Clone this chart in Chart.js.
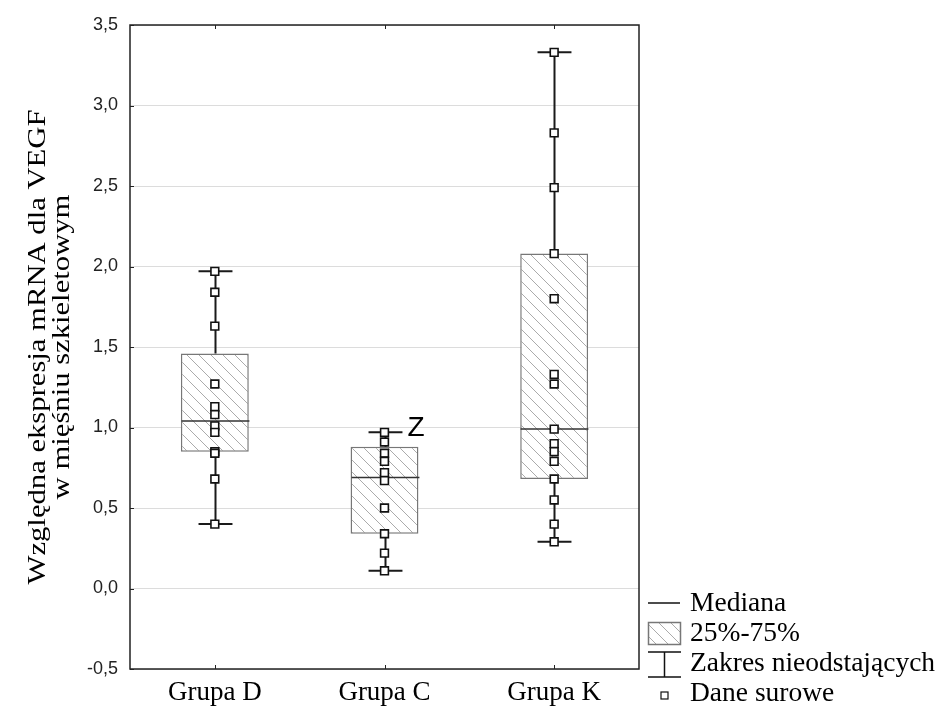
<!DOCTYPE html>
<html>
<head>
<meta charset="utf-8">
<script src="https://cdn.jsdelivr.net/npm/chart.js@4.4.1/dist/chart.umd.min.js"></script>
<style>
  html, body { margin: 0; padding: 0; background: #fff; }
  #wrap { width: 941px; height: 708px; }
</style>
</head>
<body>
<div id="wrap"><canvas id="boxChart" width="941" height="708"></canvas></div>
<script>
// dane
const categories = ["Grupa D", "Grupa C", "Grupa K"];
const rawD = [1.97, 1.84, 1.63, 1.27, 1.13, 1.08, 1.01, 0.97, 0.85, 0.84, 0.68, 0.40];
const rawC = [0.97, 0.91, 0.84, 0.79, 0.72, 0.67, 0.50, 0.34, 0.22, 0.11];
const rawK = [3.33, 2.83, 2.49, 2.08, 1.80, 1.33, 1.27, 0.99, 0.90, 0.85, 0.79, 0.68, 0.55, 0.40, 0.29];
const q1 = [0.85, 0.34, 0.68];
const q3 = [1.46, 0.88, 2.08];
const medians = [1.04, 0.69, 0.99];
const whiskerLow = [0.40, 0.11, 0.29];
const whiskerHigh = [1.97, 0.97, 3.33];
const yTicks = [-0.5, 0, 0.5, 1, 1.5, 2, 2.5, 3, 3.5];
const yTitle = ["Względna ekspresja mRNA dla VEGF", "w mięśniu szkieletowym"];

const serif = "'Liberation Serif', 'Times New Roman', serif";
const sans = "'Liberation Sans', Arial, sans-serif";

const makeHatch = () => {
    const c = document.createElement("canvas");
    c.width = 12; c.height = 12;
    const g = c.getContext("2d");
    g.fillStyle = "#fff";
    g.fillRect(0, 0, 12, 12);
    g.strokeStyle = "#ababab";
    g.lineWidth = 1;
    g.beginPath();
    g.moveTo(-2, -2); g.lineTo(14, 14);
    g.moveTo(-2, 10); g.lineTo(2, 14);
    g.moveTo(10, -2); g.lineTo(14, 2);
    g.stroke();
    return g.createPattern(c, "repeat");
};
const hatch = makeHatch();

const rawPoints = [rawD, rawC, rawK].flatMap((vals, i) => vals.map((v) => ({ x: categories[i], y: v })));

const whiskerPlugin = {
    id: "whiskers",
    afterDatasetDraw(chart, args) {
        if (args.index !== 1) return;
        const { ctx, scales: { x, y } } = chart;
        const step = x.getPixelForValue(1) - x.getPixelForValue(0);
        ctx.save();
        categories.forEach((cat, i) => {
            const cx = Math.round(x.getPixelForValue(i)) + 0.5;
            const cap = step * 0.1;
            ctx.strokeStyle = "#1a1a1a";
            ctx.lineWidth = 2;
            ctx.beginPath();
            ctx.moveTo(cx, y.getPixelForValue(whiskerHigh[i]));
            ctx.lineTo(cx, y.getPixelForValue(q3[i]));
            ctx.moveTo(cx, y.getPixelForValue(q1[i]));
            ctx.lineTo(cx, y.getPixelForValue(whiskerLow[i]));
            ctx.moveTo(cx - cap, y.getPixelForValue(whiskerHigh[i]));
            ctx.lineTo(cx + cap, y.getPixelForValue(whiskerHigh[i]));
            ctx.moveTo(cx - cap, y.getPixelForValue(whiskerLow[i]));
            ctx.lineTo(cx + cap, y.getPixelForValue(whiskerLow[i]));
            ctx.stroke();
            const half = step * 0.2;
            ctx.lineWidth = 1.5;
            ctx.strokeStyle = "#333";
            ctx.beginPath();
            ctx.moveTo(cx - half, y.getPixelForValue(medians[i]));
            ctx.lineTo(cx + half, y.getPixelForValue(medians[i]));
            ctx.stroke();
        });
        ctx.restore();
    },
    afterDraw(chart) {
        const { ctx, chartArea: a, scales: { x, y } } = chart;
        ctx.save();
        // ramka i znaczniki
        ctx.strokeStyle = "#222";
        ctx.lineWidth = 1.5;
        ctx.strokeRect(a.left, a.top, a.right - a.left, a.bottom - a.top);
        ctx.lineWidth = 1;
        ctx.beginPath();
        yTicks.forEach((t) => {
            const py = Math.round(y.getPixelForValue(t)) + 0.5;
            ctx.moveTo(a.left, py); ctx.lineTo(a.left + 4, py);
        });
        categories.forEach((c, i) => {
            const px = Math.round(x.getPixelForValue(i)) + 0.5;
            ctx.moveTo(px, a.top); ctx.lineTo(px, a.top + 4);
            ctx.moveTo(px, a.bottom); ctx.lineTo(px, a.bottom - 4);
        });
        ctx.stroke();

        // tytuł osi Y (rozciągnięty wzdłuż osi jak w oryginale)
        ctx.fillStyle = "#000";
        ctx.font = "25px " + serif;
        ctx.textAlign = "center";
        ctx.textBaseline = "middle";
        const stretch = 475 / ctx.measureText(yTitle[0]).width;
        const midY = (a.top + a.bottom) / 2;
        [38, 62].forEach((tx, i) => {
            ctx.save();
            ctx.translate(tx, midY);
            ctx.rotate(-Math.PI / 2);
            ctx.scale(stretch, 1);
            ctx.fillText(yTitle[i], 0, 0);
            ctx.restore();
        });

        // etykieta "Z"
        ctx.font = "28px " + sans;
        ctx.textAlign = "left";
        ctx.fillText("Z", x.getPixelForValue(1) + 23, y.getPixelForValue(whiskerHigh[1]) - 4);

        // legenda
        const lx = 648, tx = 690;
        ctx.strokeStyle = "#111";
        ctx.lineWidth = 1.5;
        ctx.beginPath();
        ctx.moveTo(lx, 603); ctx.lineTo(lx + 32, 603);
        ctx.stroke();
        ctx.fillStyle = hatch;
        ctx.fillRect(lx, 622, 33, 23);
        ctx.strokeStyle = "#777";
        ctx.strokeRect(lx + 0.5, 622.5, 32, 22);
        ctx.strokeStyle = "#111";
        ctx.beginPath();
        ctx.moveTo(lx, 652); ctx.lineTo(lx + 33, 652);
        ctx.moveTo(lx + 16.5, 652); ctx.lineTo(lx + 16.5, 677);
        ctx.moveTo(lx, 677); ctx.lineTo(lx + 33, 677);
        ctx.stroke();
        ctx.fillStyle = "#fff";
        ctx.fillRect(lx + 13, 692, 7, 7);
        ctx.lineWidth = 1.2;
        ctx.strokeRect(lx + 13, 692, 7, 7);

        ctx.fillStyle = "#000";
        ctx.font = "27.5px " + serif;
        ctx.fillText("Mediana", tx, 604);
        ctx.fillText("25%-75%", tx, 634);
        ctx.fillText("Zakres nieodstających", tx, 664);
        ctx.fillText("Dane surowe", tx, 694);
        ctx.restore();
    }
};

new Chart(document.querySelector("#boxChart"), {
    data: {
        labels: categories,
        datasets: [
            {
                type: "line",
                label: "Dane surowe",
                data: rawPoints,
                showLine: false,
                pointStyle: "rect",
                pointRadius: 5.5,
                pointBackgroundColor: "#fff",
                pointBorderColor: "#111",
                pointBorderWidth: 1.6,
                order: 0
            },
            {
                type: "bar",
                label: "25%-75%",
                data: categories.map((c, i) => [q1[i], q3[i]]),
                backgroundColor: hatch,
                borderColor: "#777",
                borderWidth: 1.5,
                borderSkipped: false,
                barPercentage: 0.4,
                categoryPercentage: 1,
                order: 1
            }
        ]
    },
    options: {
        responsive: false,
        animation: false,
        events: [],
        layout: { padding: { left: 0, right: 302, top: 25, bottom: 0 } },
        plugins: { legend: { display: false }, tooltip: { enabled: false } },
        scales: {
            x: {
                type: "category",
                grid: { display: false, drawTicks: false },
                border: { display: false },
                ticks: { color: "#000", font: { family: serif, size: 27 }, padding: 8 },
                afterFit: (s) => { s.height = 39; }
            },
            y: {
                min: -0.5,
                max: 3.5,
                afterBuildTicks: (s) => { s.ticks = yTicks.map((v) => ({ value: v })); },
                grid: { color: "#dcdcdc", lineWidth: 1, drawTicks: false },
                border: { display: false },
                ticks: {
                    color: "#222",
                    font: { family: sans, size: 18 },
                    padding: 12,
                    callback: (v) => v.toFixed(1).replace(".", ",")
                },
                afterFit: (s) => { s.width = 130; }
            }
        }
    },
    plugins: [whiskerPlugin]
});
</script>
</body>
</html>
